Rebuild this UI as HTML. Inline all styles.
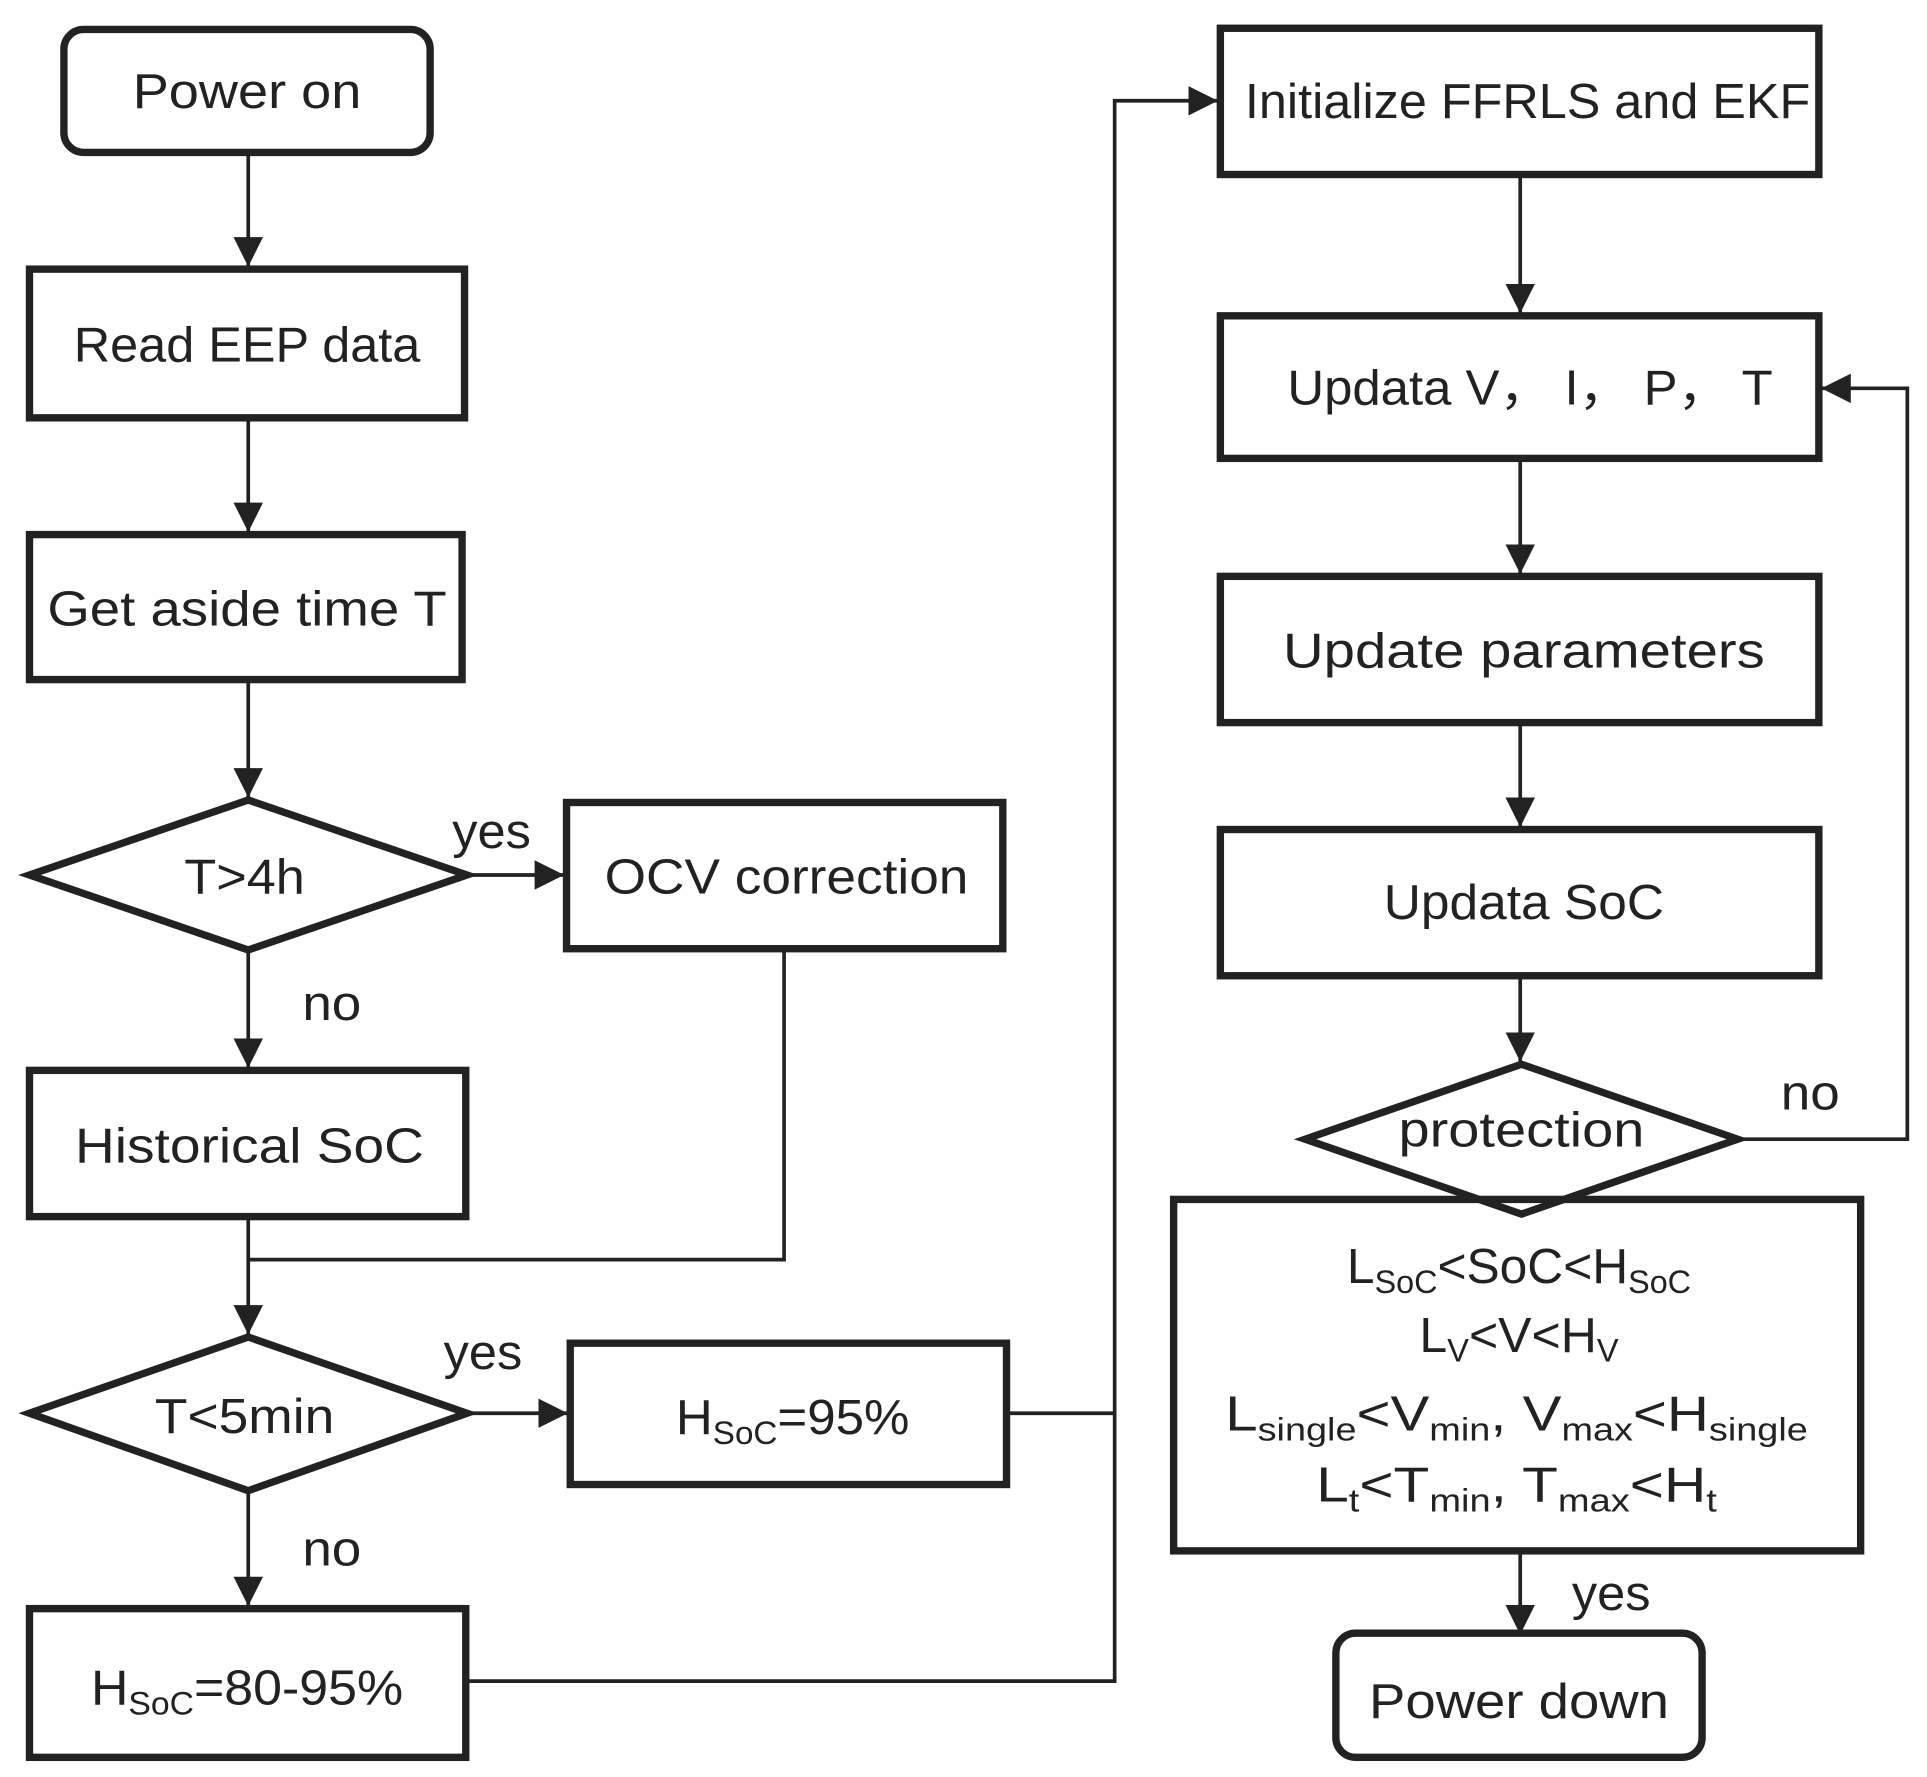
<!DOCTYPE html>
<html><head><meta charset="utf-8"><style>html,body{margin:0;padding:0;background:#fff}svg{display:block}</style></head>
<body>
<svg width="1927" height="1777" viewBox="0 0 1568 1446" preserveAspectRatio="none" xmlns="http://www.w3.org/2000/svg">
<defs>
<marker id="b" viewBox="0 0 10 10" refX="10" refY="5" markerWidth="24" markerHeight="24" markerUnits="userSpaceOnUse" orient="auto"><path d="M0,0L10,5L0,10z" fill="#222"/></marker></defs>
<g fill="none" stroke="#222" stroke-width="6">
<rect x="52" y="24" width="298" height="100" rx="16"/>
<rect x="24" y="219" width="354" height="121"/>
<rect x="24" y="435" width="352" height="118"/>
<polygon points="24,712 202,651 380,712 202,773"/>
<rect x="461" y="653" width="355" height="119"/>
<rect x="24" y="871" width="355" height="119"/>
<polygon points="24,1150 202,1088 380,1150 202,1213"/>
<rect x="464" y="1093" width="355" height="115"/>
<rect x="24" y="1309" width="355" height="121"/>
<rect x="993" y="23" width="487" height="119"/>
<rect x="993" y="257" width="487" height="116"/>
<rect x="993" y="469" width="487" height="119"/>
<rect x="993" y="675" width="487" height="119"/>
<polygon points="1062,927 1238,866 1414,927 1238,988"/>
<rect x="955" y="976" width="559" height="286"/>
<rect x="1087" y="1329" width="298" height="101" rx="16"/>
</g>
<g fill="none" stroke="#222" stroke-width="3">
<line x1="202" y1="124" x2="202" y2="217" marker-end="url(#b)"/>
<line x1="202" y1="340" x2="202" y2="433" marker-end="url(#b)"/>
<line x1="202" y1="553" x2="202" y2="649" marker-end="url(#b)"/>
<line x1="380" y1="712" x2="459" y2="712" marker-end="url(#b)"/>
<line x1="202" y1="773" x2="202" y2="869" marker-end="url(#b)"/>
<polyline points="638,772 638,1025 202,1025"/>
<line x1="202" y1="990" x2="202" y2="1086" marker-end="url(#b)"/>
<line x1="380" y1="1150" x2="462" y2="1150" marker-end="url(#b)"/>
<line x1="202" y1="1213" x2="202" y2="1307" marker-end="url(#b)"/>
<line x1="819" y1="1150" x2="907" y2="1150"/>
<polyline points="379,1368 907,1368 907,82 991,82" marker-end="url(#b)"/>
<line x1="1237" y1="142" x2="1237" y2="255" marker-end="url(#b)"/>
<line x1="1237" y1="373" x2="1237" y2="467" marker-end="url(#b)"/>
<line x1="1237" y1="588" x2="1237" y2="673" marker-end="url(#b)"/>
<line x1="1237" y1="794" x2="1237" y2="864" marker-end="url(#b)"/>
<polyline points="1414,927 1552,927 1552,316 1482,316" marker-end="url(#b)"/>
<line x1="1237" y1="1262" x2="1237" y2="1330" marker-end="url(#b)"/>
</g>
<g font-family="'Liberation Sans', 'Noto Sans CJK SC', sans-serif" font-size="40" fill="#222" text-anchor="middle">
<text x="201" y="88" textLength="186" lengthAdjust="spacingAndGlyphs">Power on</text>
<text x="201" y="294" textLength="282" lengthAdjust="spacingAndGlyphs">Read EEP data</text>
<text x="201" y="509" textLength="325" lengthAdjust="spacingAndGlyphs">Get aside time T</text>
<text x="199" y="727" textLength="98" lengthAdjust="spacingAndGlyphs">T&gt;4h</text>
<text x="640" y="727" textLength="296" lengthAdjust="spacingAndGlyphs">OCV correction</text>
<text x="203" y="946" textLength="284" lengthAdjust="spacingAndGlyphs">Historical  SoC</text>
<text x="199" y="1166" textLength="146" lengthAdjust="spacingAndGlyphs">T&lt;5min</text>
<text x="400" y="690" textLength="64" lengthAdjust="spacingAndGlyphs">yes</text>
<text x="270" y="830" textLength="48" lengthAdjust="spacingAndGlyphs">no</text>
<text x="393" y="1114" textLength="64" lengthAdjust="spacingAndGlyphs">yes</text>
<text x="270" y="1274" textLength="48" lengthAdjust="spacingAndGlyphs">no</text>
<text x="1473" y="903" textLength="48" lengthAdjust="spacingAndGlyphs">no</text>
<text x="1311" y="1310" textLength="64" lengthAdjust="spacingAndGlyphs">yes</text>
<text x="645" y="1167" textLength="190" lengthAdjust="spacingAndGlyphs">H<tspan font-size="26" dy="8">SoC</tspan><tspan dy="-8">=95%</tspan></text>
<text x="201" y="1387" textLength="254" lengthAdjust="spacingAndGlyphs">H<tspan font-size="26" dy="8">SoC</tspan><tspan dy="-8">=80-95%</tspan></text>
<text x="1243" y="96" textLength="460" lengthAdjust="spacingAndGlyphs">Initialize FFRLS and EKF</text>
<text x="1245" y="329" textLength="395" lengthAdjust="spacingAndGlyphs">Updata V，  I，  P，  T</text>
<text x="1240" y="543" textLength="392" lengthAdjust="spacingAndGlyphs">Update  parameters</text>
<text x="1240" y="748" textLength="228" lengthAdjust="spacingAndGlyphs">Updata SoC</text>
<text x="1238" y="933" textLength="200" lengthAdjust="spacingAndGlyphs">protection</text>
<text x="1236" y="1398" textLength="244" lengthAdjust="spacingAndGlyphs">Power down</text>
<text x="1236" y="1044" textLength="280" lengthAdjust="spacingAndGlyphs">L<tspan font-size="26" dy="8">SoC</tspan><tspan dy="-8">&lt;SoC&lt;H</tspan><tspan font-size="26" dy="8">SoC</tspan></text>
<text x="1236" y="1100" textLength="162" lengthAdjust="spacingAndGlyphs">L<tspan font-size="26" dy="8">V</tspan><tspan dy="-8">&lt;V&lt;H</tspan><tspan font-size="26" dy="8">V</tspan></text>
<text x="1234" y="1164" textLength="474" lengthAdjust="spacingAndGlyphs">L<tspan font-size="26" dy="8">single</tspan><tspan dy="-8">&lt;V</tspan><tspan font-size="26" dy="8">min</tspan><tspan dy="-8">,   V</tspan><tspan font-size="26" dy="8">max</tspan><tspan dy="-8">&lt;H</tspan><tspan font-size="26" dy="8">single</tspan></text>
<text x="1234" y="1222" textLength="326" lengthAdjust="spacingAndGlyphs">L<tspan font-size="26" dy="8">t</tspan><tspan dy="-8">&lt;T</tspan><tspan font-size="26" dy="8">min</tspan><tspan dy="-8">,   T</tspan><tspan font-size="26" dy="8">max</tspan><tspan dy="-8">&lt;H</tspan><tspan font-size="26" dy="8">t</tspan></text>
</g>
</svg>
</body></html>
